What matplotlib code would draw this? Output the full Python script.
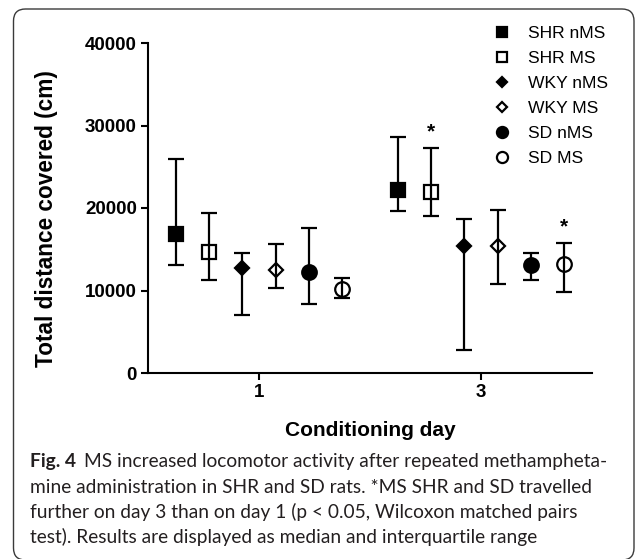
# median and interquartile range, locomotor activity per conditioning day
import matplotlib
matplotlib.use('Agg')
import matplotlib.pyplot as plt
from matplotlib.lines import Line2D
from matplotlib.patches import FancyBboxPatch
from matplotlib.transforms import IdentityTransform

plt.rcParams['font.family'] = 'Liberation Sans'

groups = ['SHR nMS', 'SHR MS', 'WKY nMS', 'WKY MS', 'SD nMS', 'SD MS']
days = [1, 3]
day_labels = ['1', '3']

# day 1
median_d1 = [16850, 14700, 12750, 12500, 12250, 10150]
q1_d1 = [13100, 11300, 7050, 10300, 8350, 9100]
q3_d1 = [25950, 19400, 14550, 15650, 17550, 11500]
# day 3
median_d3 = [22200, 21950, 15400, 15400, 13100, 13200]
q1_d3 = [19650, 19050, 2800, 10800, 11300, 9800]
q3_d3 = [28600, 27250, 18650, 19750, 14550, 15750]

# groups significantly different day 3 vs day 1
starred = ['SHR MS', 'SD MS']

y_ticks = [0, 10000, 20000, 30000, 40000]

caption_bold = 'Fig. 4'
caption_lines = [
    'MS increased locomotor activity after repeated methampheta-',
    'mine administration in SHR and SD rats. *MS SHR and SD travelled',
    'further on day 3 than on day 1 (p < 0.05, Wilcoxon matched pairs',
    'test). Results are displayed as median and interquartile range',
]

offsets = [-0.75, -0.45, -0.15, 0.15, 0.45, 0.75]
markers = ['s', 's', 'D', 'D', 'o', 'o']
filled = [True, False, True, False, True, False]
msizes = [10.5, 10.5, 7.5, 7.5, 10.5, 10.5]

fig = plt.figure(figsize=(6.37, 5.59), dpi=100)
ax = fig.add_axes([148 / 637, 1 - 373 / 559, 444 / 637, 330 / 559])

medians = [median_d1, median_d3]
q1s = [q1_d1, q1_d3]
q3s = [q3_d1, q3_d3]

for d, day in enumerate(days):
    for i, g in enumerate(groups):
        x = day + offsets[i]
        m = medians[d][i]
        lo = m - q1s[d][i]
        hi = q3s[d][i] - m
        ax.errorbar([x], [m], yerr=[[lo], [hi]], fmt=markers[i],
                    color='black', ms=msizes[i],
                    mfc='black' if filled[i] else 'none',
                    mec='black', mew=1.6, elinewidth=1.6,
                    capsize=5.5, capthick=1.6, zorder=3)
        if day == 3 and g in starred:
            ax.annotate('*', xy=(x, q3s[d][i]), xytext=(0, 12),
                        textcoords='offset points', ha='center',
                        va='center', fontsize=15, fontweight='bold')

ax.set_xlim(0, 4)
ax.set_ylim(0, 40000)
ax.set_xticks(days)
ax.set_xticklabels(day_labels)
ax.set_yticks(y_ticks)
for s in ['top', 'right']:
    ax.spines[s].set_visible(False)
for s in ['left', 'bottom']:
    ax.spines[s].set_linewidth(1.5)
ax.tick_params(axis='both', width=1.5, length=5, labelsize=13.5, pad=3)
for lab in ax.get_xticklabels() + ax.get_yticklabels():
    lab.set_fontweight('bold')

ax.set_xlabel('Conditioning day', fontsize=15, fontweight='bold',
              labelpad=14)
ax.set_ylabel('Total distance covered (cm)', fontsize=16.3,
              fontweight='bold')
ax.yaxis.set_label_coords(-0.203, 0.468)

# legend with markers only
handles = []
leg_ms = [7, 7, 5.5, 5.5, 8, 8]
for i, g in enumerate(groups):
    handles.append(Line2D([], [], linestyle='none', marker=markers[i],
                          color='black', ms=leg_ms[i],
                          mfc='black' if filled[i] else 'none',
                          mew=1.6, label=g))
fig.legend(handles=handles, loc='upper left',
           bbox_to_anchor=(492 / 637, 1 - 26 / 559), frameon=False,
           fontsize=12.6, borderpad=0, handlelength=1.2,
           handletextpad=0.85, labelspacing=0.55, borderaxespad=0)

# rounded frame around the figure panel
frame = FancyBboxPatch((13.5, -1), 620.5, 551,
                       boxstyle='round,pad=0,rounding_size=12',
                       transform=IdentityTransform(), fill=False,
                       edgecolor='#3a3a3a', linewidth=1.0)
fig.add_artist(frame)

# caption
cap_color = '#231f20'
cap_size = 13.8
x0 = 30 / 637
base = [467, 493, 518, 543]
t = fig.text(x0, 1 - base[0] / 559, caption_bold, fontsize=cap_size,
             family='Lato', fontweight='bold', color=cap_color,
             va='baseline')
fig.canvas.draw()
bb = t.get_window_extent(fig.canvas.get_renderer())
x1 = (bb.x1 + 8) / 637
fig.text(x1, 1 - base[0] / 559, caption_lines[0], fontsize=cap_size,
         family='Lato', color=cap_color, va='baseline')
for k in range(1, 4):
    fig.text(x0, 1 - base[k] / 559, caption_lines[k], fontsize=cap_size,
             family='Lato', color=cap_color, va='baseline')

plt.savefig('out.png', dpi=100)
